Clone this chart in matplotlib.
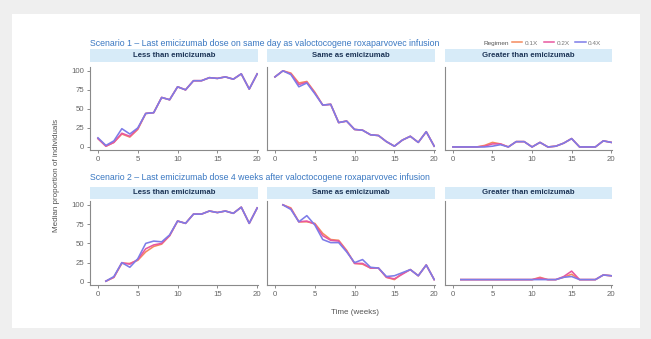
import numpy as np
import matplotlib
matplotlib.use("Agg")
import matplotlib.pyplot as plt
from matplotlib.lines import Line2D
from matplotlib.patches import Rectangle

plt.rcParams['font.family'] = ['Liberation Sans', 'DejaVu Sans']

nan = np.nan
weeks = list(range(0, 21))

regimens = ["0.1X", "0.2X", "0.4X"]
regimen_colors = ["#f48a5e", "#e8579f", "#7d7ce8"]

panel_titles = ["Less than emicizumab", "Same as emicizumab", "Greater than emicizumab"]
scenario_titles = [
    "Scenario 1 \u2013 Last emicizumab dose on same day as valoctocogene roxaparvovec infusion",
    "Scenario 2 \u2013 Last emicizumab dose 4 weeks after valoctocogene roxaparvovec infusion",
]

# Scenario 1
s1_less_01 = [11, 1, 6, 17, 13, 23, 44, 45, 65, 62, 79, 75, 87, 87, 91, 90, 92, 89, 96, 76, 96]
s1_less_02 = [11, 1, 6, 18, 14, 24, 44, 45, 65, 62, 79, 75, 87, 87, 91, 90, 92, 89, 96, 76, 96]
s1_less_04 = [12, 2, 8, 24, 17, 25, 44, 45, 65, 62, 79, 75, 87, 87, 91, 90, 92, 89, 96, 76, 96]

s1_same_01 = [92, 100, 97, 84, 86, 72, 55, 56, 32, 34, 23, 22, 16, 15, 7, 1, 9, 14, 6, 20, 1]
s1_same_02 = [92, 100, 96, 82, 85, 71, 55, 56, 32, 34, 23, 22, 16, 15, 7, 1, 9, 14, 6, 20, 1]
s1_same_04 = [92, 100, 95, 79, 84, 70, 55, 56, 32, 34, 23, 22, 16, 15, 7, 1, 9, 14, 6, 20, 1]

s1_greater_01 = [0, 0, 0, 0, 2, 6, 4, 0, 7, 7, 0, 6, 0, 1, 5, 11, 0, 0, 0, 8, 6]
s1_greater_02 = [0, 0, 0, 0, 1, 4, 4, 0, 7, 7, 0, 6, 0, 1, 5, 11, 0, 0, 0, 8, 6]
s1_greater_04 = [0, 0, 0, 0, 0, 1, 3, 0, 7, 7, 0, 6, 0, 1, 5, 11, 0, 0, 0, 8, 6]

# Scenario 2
s2_less_01 = [nan, 1, 6, 24, 24, 28, 39, 46, 49, 60, 79, 76, 88, 88, 92, 90, 92, 89, 97, 76, 96]
s2_less_02 = [nan, 1, 6, 25, 23, 29, 43, 48, 50, 60, 79, 76, 88, 88, 92, 90, 92, 89, 97, 76, 96]
s2_less_04 = [nan, 1, 7, 25, 19, 30, 50, 53, 52, 61, 79, 76, 88, 88, 92, 90, 92, 89, 97, 76, 96]

s2_same_01 = [nan, 100, 96, 78, 78, 76, 63, 55, 54, 41, 24, 23, 18, 18, 6, 3, 11, 16, 8, 22, 3]
s2_same_02 = [nan, 100, 95, 78, 79, 75, 60, 54, 53, 40, 24, 24, 18, 18, 6, 4, 10, 16, 8, 22, 3]
s2_same_04 = [nan, 100, 94, 78, 86, 74, 55, 51, 51, 39, 25, 29, 19, 18, 7, 8, 12, 16, 8, 22, 3]

s2_greater_01 = [nan, 3, 3, 3, 3, 3, 3, 3, 3, 3, 3, 6, 3, 3, 6, 10, 3, 3, 3, 9, 8]
s2_greater_02 = [nan, 3, 3, 3, 3, 3, 3, 3, 3, 3, 3, 5, 3, 3, 7, 14, 3, 3, 3, 9, 8]
s2_greater_04 = [nan, 3, 3, 3, 3, 3, 3, 3, 3, 3, 3, 3, 3, 3, 6, 7, 3, 3, 3, 9, 8]

panels = [
    [(s1_less_01, s1_less_02, s1_less_04),
     (s1_same_01, s1_same_02, s1_same_04),
     (s1_greater_01, s1_greater_02, s1_greater_04)],
    [(s2_less_01, s2_less_02, s2_less_04),
     (s2_same_01, s2_same_02, s2_same_04),
     (s2_greater_01, s2_greater_02, s2_greater_04)],
]

W, H = 651, 339
fig = plt.figure(figsize=(W / 100, H / 100), dpi=100)
fig.patch.set_facecolor("#efefef")


def fx(px):
    return px / W


def fy(py):
    return 1 - py / H


# white card behind everything
fig.patches.append(Rectangle((fx(12), fy(328)), fx(640) - fx(12), fy(14) - fy(328),
                             transform=fig.transFigure, facecolor="white",
                             edgecolor="none", zorder=-10))

col_lr = [(90, 258), (267, 435), (445, 612)]
row_tb = [(67, 150), (201, 285)]
strip_tb = [(49, 62), (187, 199)]
title_y = [44, 178]

grey = "#8a8a8a"
for r in range(2):
    fig.text(fx(90), fy(title_y[r]), scenario_titles[r], fontsize=6.3,
             color="#3a78c2", va="center", ha="left", zorder=5)
    for c in range(3):
        l, rr = col_lr[c]
        t, b = row_tb[r]
        ax = fig.add_axes([fx(l), fy(b), fx(rr) - fx(l), fy(t) - fy(b)], zorder=3)
        for series, color in zip(panels[r][c], regimen_colors):
            ax.plot(weeks, series, color=color, lw=1.15)
        ax.set_xlim(-1, 20.1)
        ax.set_ylim(-4, 105)
        ax.set_xticks([0, 5, 10, 15, 20])
        ax.set_yticks([0, 25, 50, 75, 100])
        if c > 0:
            ax.tick_params(axis="y", left=False, labelleft=False)
        for s in ("top", "right"):
            ax.spines[s].set_visible(False)
        for s in ("left", "bottom"):
            ax.spines[s].set_color(grey)
            ax.spines[s].set_linewidth(0.8)
        ax.tick_params(colors=grey, labelcolor="#666666", labelsize=5.6,
                       length=2.5, width=0.7, pad=2)
        ax.set_facecolor("none")
        # strip header
        st, sb = strip_tb[r]
        fig.patches.append(Rectangle((fx(l), fy(sb)), fx(rr) - fx(l), fy(st) - fy(sb),
                                     transform=fig.transFigure, facecolor="#d7ebf8",
                                     edgecolor="none", zorder=1))
        fig.text((fx(l) + fx(rr)) / 2, (fy(st) + fy(sb)) / 2, panel_titles[c],
                 fontsize=5.6, fontweight="bold", color="#1d3557",
                 ha="center", va="center", zorder=5)

fig.text(fx(57), fy(175), "Median proportion of individuals", rotation=90,
         fontsize=5.8, color="#555555", ha="center", va="center")
fig.text(fx(355), fy(312), "Time (weeks)", fontsize=5.8, color="#555555",
         ha="center", va="center")

# legend
fig.text(fx(483), fy(43), "Regimen", fontsize=4.6, color="#555555", va="center")
handles = [Line2D([], [], color=c, lw=1.1) for c in regimen_colors]
fig.legend(handles, regimens, ncol=3, loc="center left",
           bbox_to_anchor=(fx(512), fy(43)), frameon=False, fontsize=4.6,
           handlelength=1.6, handletextpad=0.4, columnspacing=0.9,
           labelcolor="#777777", borderaxespad=0, borderpad=0)

fig.savefig("out.png", dpi=100, facecolor=fig.get_facecolor())
